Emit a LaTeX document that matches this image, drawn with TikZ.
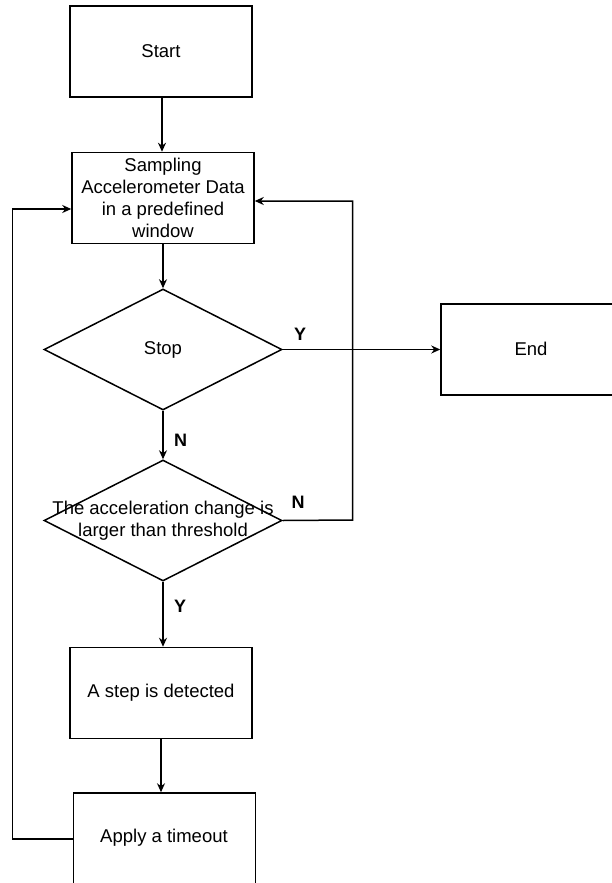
\documentclass[tikz,border=0pt]{standalone}
\usepackage{fontspec}
\setmainfont{Liberation Sans}
\usetikzlibrary{shapes.geometric,arrows.meta}
\begin{document}
\begin{tikzpicture}[x=1pt,y=-1pt,
  font=\fontsize{18.5}{22}\selectfont,
  line width=1.5pt,
  box/.style={draw, rectangle, minimum width=182pt, minimum height=91pt, inner sep=0pt, align=center},
  dia/.style={draw, diamond, minimum width=238pt, minimum height=121pt, inner sep=0pt},
  arr/.style={-{Stealth[length=9pt,width=8pt]}},
  lbl/.style={font=\fontsize{18}{22}\selectfont\bfseries}
]
\clip (0,0) rectangle (612,883);
\fill[white] (0,0) rectangle (612,883);

\node[box] (start) at (161,51.5) {Start};
\node[box] (samp) at (163,198) {Sampling\\Accelerometer Data\\in a predefined\\window};
\node[dia] (stop) at (163,349.5) {Stop};
\node[dia] (thr) at (163,520.5) {};
\node[align=center] (thrtext) at (thr) {The acceleration change is\\larger than threshold};
\node[box] (end) at (532,349.5) {};
\node (endtext) at (531,349) {End};
\node[box] (det) at (161,693) {A step is detected};
\node[box, minimum height=92pt] (tout) at (164.5,839) {};
\node (touttext) at (164,838) {Apply a timeout};

\coordinate (lc1) at (12.5,839);
\coordinate (lc2) at (12.5,209);
\coordinate (rc1) at (352.5,520);
\coordinate (rc2) at (352.5,201);

\draw[arr] (start.south -| 162,0) -- (samp.north -| 162,0);
\draw[arr] (samp.south) -- (stop.north);
\draw[arr] (stop.south) -- node[lbl, right=7pt, pos=0.6] (ln1) {N} (thr.north);
\draw[arr] (thr.south) -- node[lbl, right=7pt, pos=0.38] (ly2) {Y} (det.north -| thr.south);
\draw[arr] (det.south) -- (tout.north -| det.south);
\draw[arr] (stop.east) -- (end.west);
\node[lbl] (ly1) at (300,334) {Y};
\node[lbl] (ln2) at (298,502) {N};
\draw[arr] (tout.west |- lc1) -- (lc1) -- (lc2) -- (samp.west |- lc2);
\draw[arr] (thr.east) -- (rc1) -- (rc2) -- (samp.east |- rc2);
\end{tikzpicture}
\end{document}
